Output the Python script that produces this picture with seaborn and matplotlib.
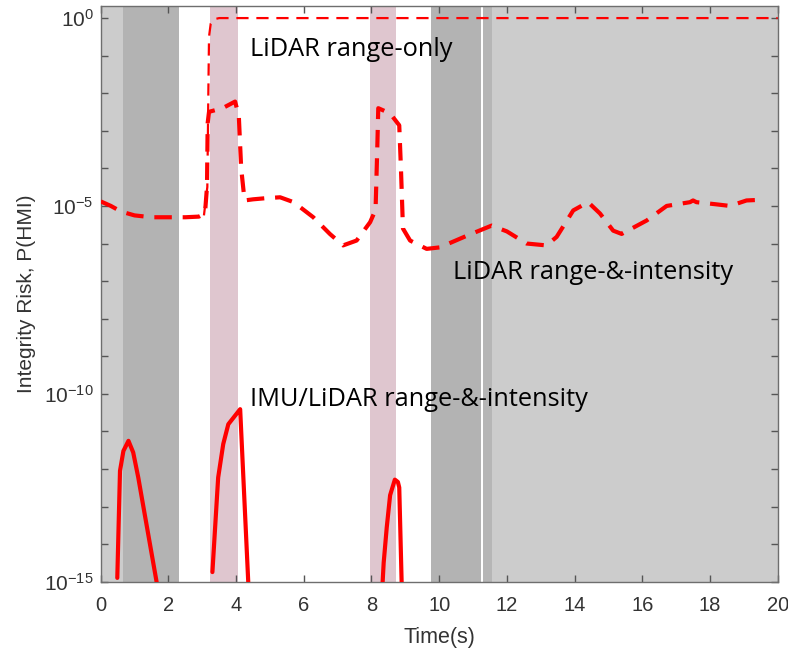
import numpy as np
import pandas as pd
import matplotlib
matplotlib.use("Agg")
import matplotlib.pyplot as plt
import matplotlib.ticker as mticker
import seaborn as sns

# ---------------- data ----------------
# LiDAR range-&-intensity (thick dashed)
ri_time = [0.0, 0.3, 0.6, 1.0, 1.5, 2.0, 2.5, 2.9, 3.08, 3.14, 3.16, 3.2, 3.6, 3.97,
           4.08, 4.15, 4.25, 4.5, 4.85, 5.3, 5.7, 6.28, 6.77, 7.16, 7.56, 7.96, 8.12,
           8.17, 8.2, 8.55, 8.82, 8.87, 8.93, 9.14, 9.63, 10.02, 10.81, 11.55, 12.0,
           12.58, 13.17, 13.47, 13.96, 14.4, 14.75, 15.14, 15.39, 16.13, 16.72, 17.41,
           17.5, 17.6, 18.2, 18.59, 19.08, 19.45]
ri_risk = [1.32e-5, 1.0e-5, 7.1e-6, 5.6e-6, 5.0e-6, 5.0e-6, 5.0e-6, 5.2e-6, 6.3e-6,
           3.2e-5, 1.6e-3, 3.2e-3, 4.0e-3, 6.0e-3,
           2.5e-3, 1.0e-4, 1.4e-5, 1.5e-5, 1.6e-5, 1.7e-5, 1.26e-5, 5.0e-6, 1.8e-6,
           8.9e-7, 1.2e-6, 3.7e-6, 7.9e-6,
           3.2e-4, 4.0e-3, 2.9e-3, 1.4e-3, 1.0e-4, 2.5e-6, 1.2e-6, 7.2e-7, 7.9e-7,
           1.6e-6, 3.0e-6, 2.1e-6,
           1.0e-6, 8.9e-7, 1.5e-6, 7.6e-6, 1.26e-5, 6.3e-6, 2.2e-6, 1.8e-6, 4.1e-6,
           1.0e-5, 1.26e-5,
           1.4e-5, 1.26e-5, 1.1e-5, 1.0e-5, 1.4e-5, 1.45e-5]

# LiDAR range-only (thin dashed)
ro_time = [3.05, 3.15, 3.18, 3.2, 3.25, 3.35, 3.5, 20.0]
ro_risk = [5.6e-6, 3.2e-5, 1.0e-2, 3.2e-1, 7.1e-1, 9.3e-1, 1.0, 1.0]

# IMU/LiDAR range-&-intensity (solid), three segments
imu_seg = [1, 1, 1, 1, 1, 1, 1, 1, 1,
           2, 2, 2, 2, 2, 2, 2, 2, 2,
           3, 3, 3, 3, 3, 3, 3, 3, 3]
imu_time = [0.49, 0.57, 0.67, 0.82, 0.96, 1.11, 1.26, 1.65, 1.75,
            3.3, 3.38, 3.47, 3.62, 3.77, 3.92, 4.12, 4.36, 4.4,
            8.3, 8.36, 8.45, 8.55, 8.69, 8.78, 8.82, 8.89, 8.92]
imu_risk = [1.26e-15, 8.9e-13, 3.0e-12, 5.6e-12, 2.75e-12, 5.9e-13, 1.0e-13, 1.0e-15, 3.2e-16,
            1.8e-15, 2.75e-14, 5.9e-13, 4.6e-12, 1.55e-11, 2.3e-11, 3.9e-11, 9.3e-16, 3.2e-16,
            3.2e-16, 3.2e-15, 2.75e-14, 2.0e-13, 5.2e-13, 4.5e-13, 3.2e-13, 1.0e-15, 3.2e-16]

# background shaded intervals (start, end, kind)
band_start = [0.0, 0.65, 3.22, 7.95, 9.75, 11.28, 11.56]
band_end = [0.65, 2.32, 4.05, 8.72, 11.24, 11.56, 20.0]
band_kind = ["light", "dark", "pink", "pink", "dark", "mid", "light"]

labels_text = ["LiDAR range-only", "LiDAR range-&-intensity", "IMU/LiDAR range-&-intensity"]
labels_x = [4.41, 10.4, 4.41]
labels_y = [1.0e-1, 1.15e-7, 4.8e-11]

x_ticks = [0, 2, 4, 6, 8, 10, 12, 14, 16, 18, 20]

# ---------------- style ----------------
sns.set_style("white")
plt.rcParams["font.family"] = ["Liberation Sans", "DejaVu Sans"]
plt.rcParams["mathtext.default"] = "regular"

band_colors = {"light": "#cccccc", "dark": "#b3b3b3", "mid": "#b6b6b6", "pink": "#dfc6cf"}

fig = plt.figure(figsize=(7.88, 6.56), dpi=100)
ax = fig.add_axes([0.1278, 0.1133, 0.8591, 0.8776])
ax.set_yscale("log")

for s, e, k in zip(band_start, band_end, band_kind):
    ax.axvspan(s, e, color=band_colors[k], lw=0, zorder=0)

df_ri = pd.DataFrame({"t": ri_time, "p": ri_risk})
df_ro = pd.DataFrame({"t": ro_time, "p": ro_risk})
df_imu = pd.DataFrame({"t": imu_time, "p": imu_risk, "seg": imu_seg})

sns.lineplot(data=df_ro, x="t", y="p", ax=ax, color="#ff0000", lw=1.6,
             linestyle=(0, (5.5, 3.5)), estimator=None, legend=False, zorder=3)
sns.lineplot(data=df_ri, x="t", y="p", ax=ax, color="#ff0000", lw=3.0,
             linestyle=(0, (4.2, 2.6)), estimator=None, legend=False, zorder=4)
sns.lineplot(data=df_imu, x="t", y="p", units="seg", ax=ax, color="#ff0000", lw=3.0,
             estimator=None, legend=False, zorder=4)

for txt, tx, ty in zip(labels_text, labels_x, labels_y):
    ax.text(tx, ty, txt, fontsize=18.3, family=["Open Sans", "DejaVu Sans"],
            color="black", ha="left", va="baseline", zorder=5)

ax.set_xlim(0, 20)
ax.set_ylim(1e-15, 2.1)
ax.set_xticks(x_ticks)
ax.set_xticklabels([str(v) for v in x_ticks])

ax.yaxis.set_major_locator(mticker.LogLocator(base=10, subs=(1.0,), numticks=30))
ax.yaxis.set_minor_locator(mticker.NullLocator())

def yfmt(v, pos):
    e = int(round(np.log10(v)))
    if e % 5 == 0:
        return r"$10^{%d}$" % e
    return ""

ax.yaxis.set_major_formatter(mticker.FuncFormatter(yfmt))

ax.tick_params(axis="both", which="both", direction="in", length=5, width=1.0,
               color="#555555", labelcolor="#333333",
               top=True, right=True, bottom=True, left=True)
ax.tick_params(axis="x", pad=10, labelsize=14.5)
ax.tick_params(axis="y", pad=5, labelsize=15)

for sp in ax.spines.values():
    sp.set_color("#6e6e6e")
    sp.set_linewidth(1.0)

ax.set_xlabel("Time(s)", fontsize=15.5, color="#333333", labelpad=9)
ax.set_ylabel("Integrity Risk, P(HMI)", fontsize=15, color="#333333", labelpad=6)

fig.savefig("out.png", dpi=100)
